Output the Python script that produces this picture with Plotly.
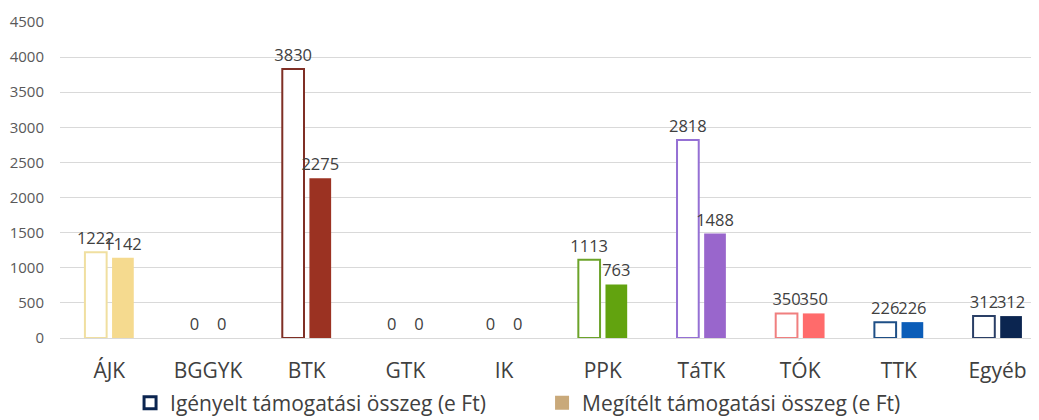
import plotly.graph_objects as go

categories = ["ÁJK", "BGGYK", "BTK", "GTK", "IK", "PPK", "TáTK", "TÓK", "TTK", "Egyéb"]
igenyelt = [1222, 0, 3830, 0, 0, 1113, 2818, 350, 226, 312]
megitelt = [1142, 0, 2275, 0, 0, 763, 1488, 350, 226, 312]

NONE = "rgba(0,0,0,0)"
fill_colors = ["#F5DA8F", NONE, "#9B3222", NONE, NONE,
               "#62A30F", "#9966CC", "#FF6B6B", "#0B5DB8", "#0B2550"]
outline_colors = ["#F0DFA0", NONE, "#7F2F25", NONE, NONE,
                  "#6CA32A", "#9570D4", "#F07F7F", "#1E4F86", "#2A3F66"]

FONT = "Open Sans"
label_font = dict(family=FONT, size=16.5, color="#404040")

fig = go.Figure()
fig.add_trace(go.Bar(
    x=categories, y=igenyelt, name="Igényelt támogatási összeg (e Ft)",
    marker=dict(color="white", line=dict(color=outline_colors, width=2)),
    texttemplate="%{y}", textposition="outside", constraintext="none",
    textfont=label_font, cliponaxis=False, showlegend=False,
))
fig.add_trace(go.Bar(
    x=categories, y=megitelt, name="Megítélt támogatási összeg (e Ft)",
    marker=dict(color=fill_colors, line=dict(width=0)),
    texttemplate="%{y}", textposition="outside", constraintext="none",
    textfont=label_font, cliponaxis=False, showlegend=False,
))
# legend entries
fig.add_trace(go.Scatter(
    x=[None], y=[None], mode="markers", name="Igényelt támogatási összeg (e Ft)",
    marker=dict(symbol="square", size=12, color="white", line=dict(color="#0B2550", width=3)),
))
fig.add_trace(go.Scatter(
    x=[None], y=[None], mode="markers", name="Megítélt támogatási összeg (e Ft)",
    marker=dict(symbol="square", size=14, color="#C9A97A"),
))

fig.update_layout(
    width=1031, height=412,
    margin=dict(l=52, r=4, t=14, b=82, autoexpand=False),
    paper_bgcolor="white", plot_bgcolor="white",
    barmode="group", bargap=0.45, bargroupgap=0.2,
    font=dict(family=FONT, color="#404040"),
    legend=dict(orientation="h", xref="container", yref="container",
                x=0.518, xanchor="center", y=0.041, yanchor="middle",
                entrywidth=367, itemwidth=30, bgcolor=NONE,
                font=dict(family=FONT, size=21, color="#404040"),
                tracegroupgap=0),
    showlegend=True,
)
fig.update_yaxes(range=[0, 4500], dtick=500, showgrid=True, gridcolor="#D9D9D9",
                 gridwidth=1, zeroline=False, showline=False,
                 tickfont=dict(family=FONT, size=15, color="#595959"),
                 ticklabelstandoff=15)
fig.update_xaxes(range=[-0.5, 9.38], showline=True, linecolor="#D9D9D9", linewidth=1,
                 tickfont=dict(family=FONT, size=21, color="#404040"),
                 ticklabelstandoff=14)

fig.write_html("out.html")
